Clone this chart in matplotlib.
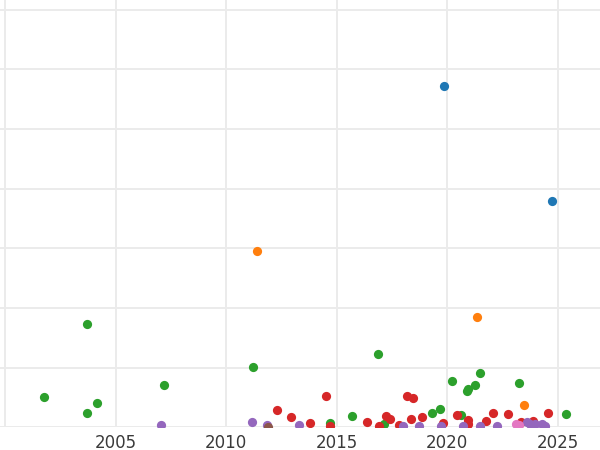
import matplotlib
matplotlib.use("Agg")
import matplotlib.pyplot as plt

# ---- data ----
blue_x = [2019.88, 2024.75]
blue_y = [57.24, 37.92]

orange_x = [2011.40, 2021.37, 2023.48]
orange_y = [29.60, 18.54, 3.75]

green_x = [2001.78, 2003.72, 2003.72, 2004.18, 2007.19, 2011.21, 2014.71, 2015.70,
           2016.86, 2017.16, 2019.33, 2019.69, 2020.22, 2020.62, 2020.89, 2020.96,
           2021.25, 2021.51, 2023.24, 2025.38]
green_y = [5.09, 17.27, 2.41, 4.14, 7.05, 10.17, 0.82, 1.96,
           12.24, 0.49, 2.41, 3.13, 7.74, 2.04, 6.15, 6.38,
           7.14, 9.06, 7.39, 2.28]

red_x = [2012.29, 2012.94, 2013.79, 2014.51, 2014.69, 2016.38, 2016.91, 2017.23,
         2017.42, 2017.85, 2018.18, 2018.48, 2018.37, 2018.88, 2019.84, 2020.43,
         2020.94, 2020.97, 2021.76, 2022.07, 2022.74, 2023.37, 2023.91, 2024.58]
red_y = [2.91, 1.79, 0.79, 5.23, 0.23, 0.87, 0.23, 1.94,
         1.49, 0.40, 5.26, 4.87, 1.41, 1.74, 0.69, 2.04,
         1.32, 0.57, 1.12, 2.36, 2.21, 0.95, 1.07, 2.33]

purple_x = [2007.07, 2011.18, 2011.84, 2013.30, 2018.02, 2018.75, 2019.75, 2020.71,
            2021.48, 2022.25, 2023.60, 2023.76, 2023.98, 2024.29, 2024.43]
purple_y = [0.32, 0.95, 0.35, 0.32, 0.28, 0.28, 0.28, 0.28,
            0.28, 0.28, 0.95, 0.57, 0.65, 0.49, 0.28]

brown_x = [2011.91]
brown_y = [0.12]

pink_x = [2023.10, 2023.24]
pink_y = [0.52, 0.35]

x_ticks = [2000, 2005, 2010, 2015, 2020, 2025]
x_tick_labels = ["", "2005", "2010", "2015", "2020", "2025"]
y_ticks = [0, 10, 20, 30, 40, 50, 60, 70]

series = [
    (blue_x, blue_y, "#1f77b4"),
    (orange_x, orange_y, "#ff7f0e"),
    (green_x, green_y, "#2ca02c"),
    (red_x, red_y, "#d62728"),
    (purple_x, purple_y, "#9467bd"),
    (brown_x, brown_y, "#8c564b"),
    (pink_x, pink_y, "#e377c2"),
]

fig = plt.figure(figsize=(6, 4.5), dpi=100)
ax = fig.add_axes([0, 22.6 / 450, 1, 427.4 / 450])

for xs, ys, c in series:
    ax.scatter(xs, ys, s=44, color=c, linewidths=0, zorder=3)

ax.set_xlim(2000 - 5 / 22.1, 2000 + 595 / 22.1)
ax.set_ylim(0, 10 * 427.4 / 59.7)

ax.set_xticks(x_ticks)
ax.set_xticklabels(x_tick_labels)
ax.set_yticks(y_ticks)
ax.tick_params(axis="y", left=False, labelleft=False)
ax.tick_params(axis="x", bottom=False, labelsize=12, labelcolor="#3a3a3a", pad=1)

ax.grid(True, color="#ebebeb", linewidth=1.4, zorder=0)
ax.set_axisbelow(True)
for sp in ax.spines.values():
    sp.set_visible(False)

fig.savefig("out.png", dpi=100)
